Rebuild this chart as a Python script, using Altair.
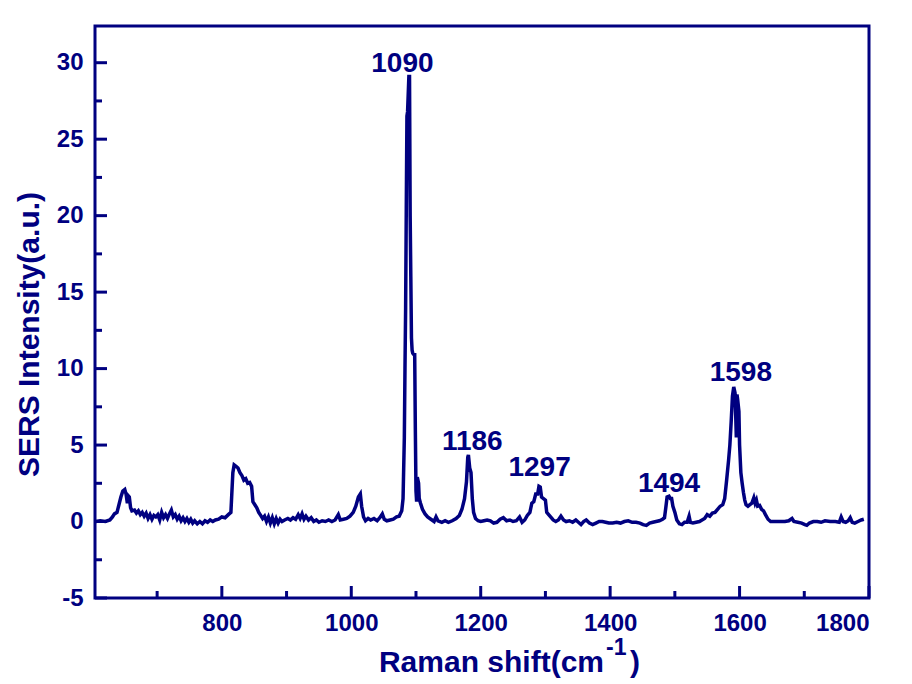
import altair as alt
import pandas as pd

NAVY = "#000080"
FONT = "Liberation Sans"

# Raman shift (cm-1) and SERS intensity (a.u.)
shift = [605, 612, 620, 627, 631, 634, 638, 641, 644, 647, 650, 652, 654, 655, 657, 659, 661, 665, 668, 671,
         674, 677, 680, 683, 686, 689, 692, 695, 698, 701, 704, 707, 710, 713, 716, 719, 722, 725, 728, 731,
         734, 737, 740, 743, 746, 749, 752, 755, 758, 762, 766, 770, 774, 778, 782, 786, 790, 795, 800, 805,
         810, 814, 817, 819, 822, 825, 828, 831, 834, 837, 840, 843, 846, 848, 851, 854, 857, 860, 863, 866,
         869, 872, 875, 878, 881, 884, 887, 890, 893, 897, 902, 906, 910, 914, 918, 921, 924, 927, 930, 934,
         938, 942, 946, 950, 955, 960, 965, 970, 975, 980, 983, 988, 993, 998, 1003, 1007, 1011, 1014, 1016, 1019,
         1022, 1026, 1030, 1035, 1040, 1045, 1048, 1051, 1055, 1060, 1065, 1070, 1074, 1078, 1080, 1082, 1083, 1084, 1085, 1086,
         1087, 1089, 1090, 1091, 1092, 1093, 1094, 1095, 1097, 1098, 1099, 1100, 1101, 1102, 1104, 1105, 1107, 1110, 1114, 1118,
         1123, 1128, 1131, 1134, 1140, 1145, 1150, 1156, 1162, 1167, 1171, 1175, 1178, 1180, 1181, 1183, 1185, 1187, 1189, 1192,
         1196, 1200, 1205, 1210, 1215, 1220, 1225, 1230, 1235, 1240, 1245, 1250, 1255, 1260, 1264, 1268, 1272, 1276, 1279, 1282,
         1285, 1288, 1290, 1292, 1294, 1297, 1300, 1302, 1305, 1308, 1312, 1316, 1320, 1324, 1328, 1332, 1337, 1342, 1347, 1351,
         1355, 1359, 1363, 1368, 1373, 1378, 1383, 1388, 1393, 1398, 1404, 1410, 1416, 1422, 1428, 1434, 1440, 1446, 1451, 1456,
         1461, 1466, 1471, 1476, 1481, 1484, 1486, 1488, 1491, 1493, 1495, 1497, 1500, 1503, 1507, 1511, 1515, 1519, 1522, 1524,
         1528, 1533, 1538, 1542, 1546, 1550, 1554, 1558, 1562, 1566, 1570, 1574, 1577, 1580, 1583, 1585, 1587, 1589, 1591, 1593,
         1594, 1595, 1596, 1597, 1599, 1600, 1602, 1604, 1606, 1608, 1610, 1613, 1616, 1619, 1622, 1624, 1626, 1628, 1631, 1634,
         1637, 1640, 1644, 1648, 1655, 1662, 1670, 1676, 1681, 1684, 1690, 1696, 1701, 1704, 1708, 1714, 1720, 1726, 1732, 1740,
         1748, 1754, 1757, 1760, 1764, 1768, 1771, 1774, 1778, 1783, 1788, 1792]
intensity = [0.0, 0.05, 0.0, 0.1, 0.3, 0.5, 0.6, 1.1, 1.6, 2.0, 2.1, 1.8, 1.2, 1.7, 1.6, 0.9, 0.7, 0.75, 0.55, 0.7,
             0.45, 0.6, 0.35, 0.55, 0.2, 0.45, 0.15, 0.4, 0.3, 0.45, 0.1, 0.6, 0.25, 0.45, 0.2, 0.5, 0.75, 0.3, 0.45, 0.15,
             0.35, 0.05, 0.25, 0.0, 0.2, -0.05, 0.15, -0.1, 0.05, -0.15, 0.0, -0.15, 0.05, -0.05, 0.1, 0.0, 0.1, 0.15, 0.3, 0.25,
             0.45, 0.6, 3.2, 3.7, 3.6, 3.5, 3.2, 3.0, 2.7, 2.8, 2.5, 2.55, 2.3, 1.3, 1.1, 0.9, 0.6, 0.4, 0.2, 0.35,
             0.0, 0.3, -0.1, 0.25, -0.15, 0.2, -0.1, 0.15, 0.0, 0.1, 0.2, 0.1, 0.25, 0.15, 0.45, 0.2, 0.5, 0.15, 0.35, 0.1,
             0.25, 0.0, 0.1, -0.05, 0.05, 0.0, 0.1, 0.0, 0.1, 0.45, 0.1, 0.15, 0.2, 0.35, 0.6, 1.0, 1.6, 1.8, 1.0, 0.3,
             0.05, 0.2, 0.1, 0.2, 0.05, 0.3, 0.5, 0.15, 0.05, 0.1, 0.15, 0.3, 0.35, 0.7, 1.5, 5.5, 10.0, 14.0, 20.5, 26.5,
             26.8, 29.1, 29.1, 20.0, 16.0, 12.0, 11.2, 11.0, 10.9, 10.9, 6.0, 2.0, 1.3, 2.9, 2.5, 1.5, 1.2, 0.8, 0.5, 0.3,
             0.15, 0.0, 0.3, 0.05, -0.05, 0.05, -0.05, 0.05, 0.2, 0.4, 0.8, 1.5, 2.6, 4.2, 4.35, 3.5, 3.2, 1.5, 0.6, 0.2,
             0.05, 0.0, 0.05, 0.1, 0.05, -0.1, -0.05, 0.15, 0.25, 0.05, 0.1, 0.0, 0.05, 0.3, -0.05, 0.1, 0.4, 0.6, 1.2, 1.3,
             1.8, 1.8, 2.3, 2.25, 1.6, 1.5, 1.4, 0.6, 0.45, 0.3, 0.1, 0.0, 0.1, 0.35, 0.1, 0.0, 0.05, -0.05, 0.1, -0.05,
             -0.2, 0.0, 0.1, -0.1, -0.2, -0.1, 0.0, 0.0, -0.05, -0.1, -0.1, -0.05, -0.1, 0.0, 0.05, -0.05, -0.05, -0.1, -0.2, -0.25,
             -0.1, -0.05, 0.0, 0.05, 0.15, 0.25, 0.9, 1.6, 1.65, 1.5, 1.5, 1.0, 0.6, 0.1, -0.15, -0.2, -0.05, -0.05, 0.35, -0.05,
             -0.1, -0.05, 0.0, 0.1, 0.2, 0.45, 0.35, 0.55, 0.6, 0.8, 1.0, 1.1, 1.5, 2.7, 4.0, 5.0, 6.5, 8.2, 8.8, 8.4,
             7.0, 5.5, 8.3, 8.0, 7.2, 5.0, 3.2, 2.5, 1.9, 1.4, 1.1, 1.0, 1.1, 1.2, 1.55, 1.2, 1.4, 1.0, 1.05, 0.8,
             0.7, 0.45, 0.15, 0.0, 0.0, 0.0, 0.0, 0.05, 0.2, 0.0, -0.05, -0.1, -0.2, -0.25, -0.1, 0.0, 0.0, -0.05, 0.05, 0.0,
             0.0, -0.05, 0.3, 0.0, -0.05, 0.05, 0.25, -0.05, -0.1, 0.0, 0.1, 0.15]

# Peak annotations (label text and where it sits, in data units)
peak_labels = ["1090", "1186", "1297", "1494", "1598"]
peak_label_x = [1079, 1187, 1291, 1491, 1602]
peak_label_y = [29.4, 4.7, 2.95, 1.96, 9.16]

# Axis ticks
x_major = [800, 1000, 1200, 1400, 1600, 1800]
x_minor = [700, 900, 1100, 1300, 1500, 1700]
y_major = [-5, 0, 5, 10, 15, 20, 25, 30]
y_minor = [-2.5, 2.5, 7.5, 12.5, 17.5, 22.5, 27.5]

W, H = 774, 572
xs = alt.Scale(domain=[604, 1800], nice=False, zero=False)
ys = alt.Scale(domain=[-5, 32.4], nice=False, zero=False)

x_axis = alt.Axis(
    values=x_major, title=None, ticks=False, tickSize=0, domain=False, grid=False,
    labelExpr="datum.value + ''",
    labelFont=FONT, labelFontSize=24, labelFontWeight="bold", labelColor=NAVY, labelPadding=13)
y_axis = alt.Axis(
    values=y_major, title="SERS Intensity(a.u.)", ticks=False, tickSize=0, domain=False, grid=False,
    labelExpr="datum.value + ''",
    labelFont=FONT, labelFontSize=24, labelFontWeight="bold", labelColor=NAVY, labelPadding=12,
    titleFont=FONT, titleFontSize=30, titleFontWeight="bold", titleColor=NAVY,
    titleX=-57, titleY=308, titleAngle=270, titleAlign="center", titleBaseline="alphabetic")

spec = pd.DataFrame({"shift": shift, "intensity": intensity})
line = alt.Chart(spec).mark_line(color=NAVY, strokeWidth=3.5, strokeJoin="miter").encode(
    x=alt.X("shift:Q", scale=xs, axis=x_axis),
    y=alt.Y("intensity:Q", scale=ys, axis=y_axis),
)

ymaj = alt.Chart(pd.DataFrame({"v": y_major})).mark_rule(color=NAVY, strokeWidth=3).encode(
    y=alt.Y("v:Q", scale=ys, axis=y_axis), x=alt.value(0), x2=alt.value(12))
ymin = alt.Chart(pd.DataFrame({"v": y_minor})).mark_rule(color=NAVY, strokeWidth=3).encode(
    y=alt.Y("v:Q", scale=ys, axis=y_axis), x=alt.value(0), x2=alt.value(7))
xmaj = alt.Chart(pd.DataFrame({"v": x_major})).mark_rule(color=NAVY, strokeWidth=3).encode(
    x=alt.X("v:Q", scale=xs, axis=x_axis), y=alt.value(H), y2=alt.value(H - 12))
xmin = alt.Chart(pd.DataFrame({"v": x_minor})).mark_rule(color=NAVY, strokeWidth=3).encode(
    x=alt.X("v:Q", scale=xs, axis=x_axis), y=alt.value(H), y2=alt.value(H - 7))

ann = alt.Chart(pd.DataFrame({"label": peak_labels, "x": peak_label_x, "y": peak_label_y})).mark_text(
    font=FONT, fontSize=28, fontWeight="bold", color=NAVY, baseline="alphabetic", align="center"
).encode(x=alt.X("x:Q", scale=xs, axis=x_axis), y=alt.Y("y:Q", scale=ys, axis=y_axis), text="label:N")

# X axis title with superscript
xt_main = alt.Chart(pd.DataFrame({"t": ["Raman shift(cm"]})).mark_text(
    font=FONT, fontSize=30, fontWeight="bold", color=NAVY, align="right", baseline="alphabetic"
).encode(text="t:N", x=alt.value(509), y=alt.value(646))
xt_sup = alt.Chart(pd.DataFrame({"t": ["-1"]})).mark_text(
    font=FONT, fontSize=23, fontWeight="bold", color=NAVY, align="left", baseline="alphabetic"
).encode(text="t:N", x=alt.value(511), y=alt.value(629))
xt_end = alt.Chart(pd.DataFrame({"t": [")"]})).mark_text(
    font=FONT, fontSize=30, fontWeight="bold", color=NAVY, align="left", baseline="alphabetic"
).encode(text="t:N", x=alt.value(535), y=alt.value(646))

chart = alt.layer(line, ymaj, ymin, xmaj, xmin, ann, xt_main, xt_sup, xt_end).properties(
    width=W, height=H,
    autosize=alt.AutoSizeParams(type="none"),
    padding={"left": 87, "top": 18, "right": 35, "bottom": 86},
    background="white",
).configure_view(stroke=NAVY, strokeWidth=3)

chart.save("out.html", embed_options={"renderer": "svg", "actions": False})
